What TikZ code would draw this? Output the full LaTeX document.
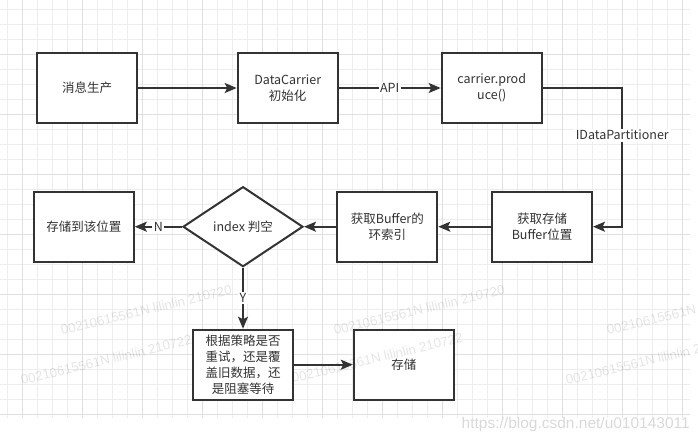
\documentclass[tikz,border=0pt]{standalone}
\usepackage{fontspec}
\setmainfont{Noto Sans CJK SC}
\newfontfamily\wmfont{Liberation Sans}
\usetikzlibrary{shapes.geometric,arrows.meta}
\definecolor{ink}{HTML}{333333}
\definecolor{gridminor}{HTML}{EDEDED}
\definecolor{gridmajor}{HTML}{E0E0E0}
\newcommand{\txtfont}{\fontsize{12.5}{16}\selectfont}
\begin{document}
\begin{tikzpicture}[x=1pt,y=-1pt,
  box/.style={draw=ink,line width=2pt,fill=white,minimum width=100pt,minimum height=70pt,inner sep=0pt,align=center,text=ink,font=\txtfont},
  decision/.style={diamond,draw=ink,line width=2pt,fill=white,minimum width=120pt,minimum height=80pt,inner sep=0pt,align=center,text=ink,font=\txtfont},
  flow/.style={draw=ink,line width=1.8pt,-{Stealth[length=12pt,width=10pt,inset=2.5pt]}},
  lbl/.style={fill=white,text=ink,inner sep=1.5pt,font=\txtfont},
  wm/.style={text=black,opacity=0.1,font=\wmfont\fontsize{13.3}{14}\selectfont,rotate=13.5,anchor=base west,inner sep=0pt},
  gridline/.style={line width=1pt}]
\useasboundingbox (0,0) rectangle (698,442);
\clip (0,0) rectangle (698,442);
\fill[white] (0,0) rectangle (698,442);
% grid
\begin{scope}
\clip (0,0) rectangle (690,418);
\foreach \gx in {7.3,22.3,...,690} \draw[gridline,gridminor] (\gx,0) -- (\gx,418);
\foreach \gy in {9.3,24.3,...,418} \draw[gridline,gridminor] (0,\gy) -- (690,\gy);
\foreach \gx in {22.3,82.3,...,690} \draw[gridline,gridmajor] (\gx,0) -- (\gx,418);
\foreach \gy in {54.3,114.3,...,418} \draw[gridline,gridmajor] (0,\gy) -- (690,\gy);
\end{scope}
% nodes
\node[box] (prod) at (87,88) {消息生产};
\node[box] (init) at (287.7,88) {DataCarrier\\初始化};
\node[box] (produce) at (491.7,88) {carrier.prod\\uce()};
\node[box] (getpos) at (542,226.7) {获取存储\\Buffer位置};
\node[box] (ringidx) at (387.3,226.7) {获取Buffer的\\环索引};
\node[decision] (check) at (243,226.7) {index 判空};
\node[box] (store) at (83.8,226.7) {存储到该位置};
\node[box] (policy) at (243,364.7) {根据策略是否\\重试，还是覆\\盖旧数据，还\\是阻塞等待};
\node[box] (save) at (403.8,364.7) {存储};
\coordinate (bendA) at (622.3,88);
\coordinate (bendB) at (622.3,226.7);
% connectors
\draw[flow] (prod) -- (init);
\draw[flow] (init) -- node[lbl]{API} (produce);
\draw[flow] (produce.east) -- (bendA) -- node[lbl,pos=0.34]{IDataPartitioner} (bendB) -- (getpos.east);
\draw[flow] (getpos) -- (ringidx);
\draw[flow] (ringidx) -- (check);
\draw[flow] (check.west) -- node[lbl]{N} (store.east);
\draw[flow] (check.south) -- node[lbl]{Y} (policy.north);
\draw[flow] (policy) -- (save);
% watermarks
\node[wm] (wm1) at (62,335) {00210615561N lilinlin 210720};
\node[wm] (wm2) at (335,335) {00210615561N lilinlin 210720};
\node[wm] (wm3) at (608,335) {00210615561N lilinlin 210720};
\node[wm] (wm4) at (22,385) {00210615561N lilinlin 210722};
\node[wm] (wm5) at (293,383) {00210615561N lilinlin 210722};
\node[wm] (wm6) at (567,385) {00210615561N lilinlin 210722};
\node[anchor=base east,text=black,opacity=0.15,inner sep=0pt,font=\wmfont\fontsize{15.5}{16}\selectfont] (url) at (690,428.5) {https://blog.csdn.net/u010143011};
\end{tikzpicture}
\end{document}
